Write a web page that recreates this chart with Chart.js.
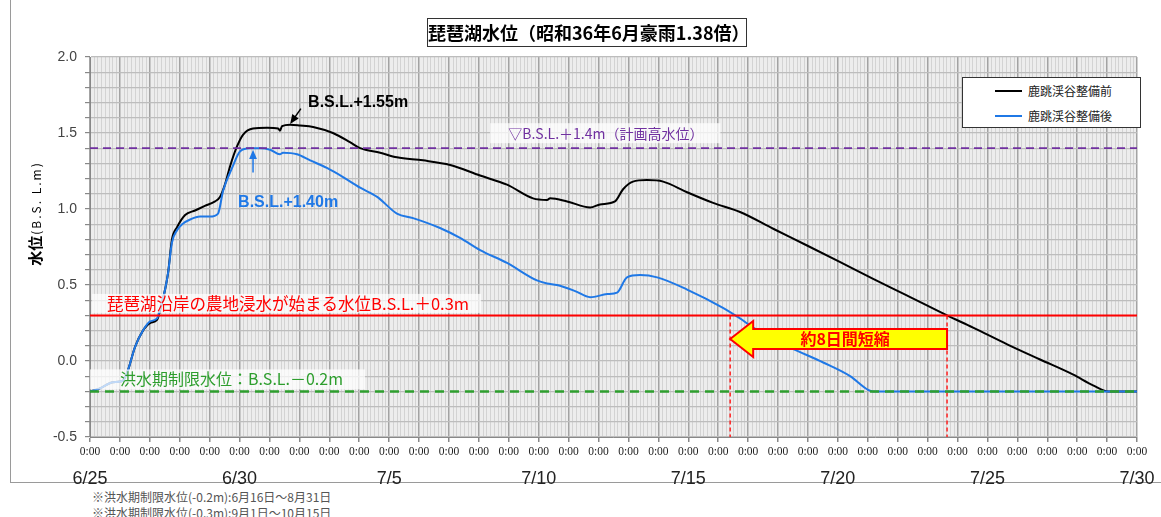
<!DOCTYPE html>
<html lang="ja">
<head>
<meta charset="utf-8">
<title>琵琶湖水位</title>
<script src="https://cdn.jsdelivr.net/npm/chart.js@4"></script>
<style>
  body { margin: 0; background: #fff; font-family: "Noto Sans CJK JP", sans-serif; }
  #wrap { position: relative; width: 1161px; height: 517px; overflow: hidden; }
  #frame { position: absolute; left: 10px; top: -2px; width: 1150px; height: 484px; border-left: 1px solid #9a9a9a; border-bottom: 1px solid #9a9a9a; }
  #chartBox { position: absolute; left: 0; top: 0; width: 1161px; height: 485px; }
  #title { position: absolute; left: 427px; top: 18px; width: 318px; height: 27px; border: 1px solid #333; background: #fff;
           font-weight: bold; font-size: 18px; line-height: 27px; text-align: center; white-space: nowrap; }
  #legend { position: absolute; left: 962px; top: 77px; width: 177px; height: 49px; border: 1px solid #333; background: #fff; font-size: 12px; }
  .row { position: absolute; left: 0; width: 100%; height: 16px; line-height: 16px; }
  .swatch { position: absolute; left: 32px; top: 7px; width: 27px; height: 2px; }
  .lbl { position: absolute; left: 65px; top: 0; white-space: nowrap; color: #222; }
  .note { position: absolute; left: 92px; font-size: 12px; line-height: 16px; color: #555; white-space: nowrap; }
</style>
</head>
<body>
<div id="wrap">
  <div id="frame"></div>
  <div id="chartBox"><canvas id="levelChart"></canvas></div>
  <div id="title">琵琶湖水位（昭和36年6月豪雨1.38倍）</div>
  <div id="legend">
    <div class="row" style="top:5px"><div class="swatch" style="background:#000"></div><div class="lbl">鹿跳渓谷整備前</div></div>
    <div class="row" style="top:30px"><div class="swatch" style="background:#1f78e6"></div><div class="lbl">鹿跳渓谷整備後</div></div>
  </div>
  <div class="note" style="top:489px">※洪水期制限水位(-0.2m):6月16日〜8月31日</div>
  <div class="note" style="top:505px">※洪水期制限水位(-0.3m):9月1日〜10月15日</div>
</div>
<script>
// days counted from 6/25 0:00
const dateLabels = ['6/25', '6/30', '7/5', '7/10', '7/15', '7/20', '7/25', '7/30'];

const beforeDays = [0, 0.33, 0.77, 1.10, 1.27, 1.50, 1.77, 2.01, 2.24, 2.34, 2.51, 2.61, 2.74, 2.91, 3.18, 3.51,
  3.84, 4.18, 4.35, 4.51, 4.68, 4.91, 5.12, 5.45, 5.92, 6.29, 6.35, 6.42, 6.69, 7.02, 7.46, 8.12, 8.69, 9.03,
  9.70, 10.26, 11.13, 12.04, 13.04, 13.94, 14.81, 15.28, 15.38, 15.95, 16.72, 17.05, 17.55, 17.82, 18.15,
  18.62, 19.16, 19.96, 20.83, 21.73, 22.84, 23.97, 25.08, 26.18, 27.32, 28.65, 29.52, 30.66, 31.76, 32.87,
  33.53, 34.04, 35];
const beforeLevel = [-0.20, -0.18, -0.14, -0.13, -0.06, 0.09, 0.20, 0.25, 0.27, 0.33, 0.47, 0.58, 0.80, 0.88, 0.96, 0.99,
  1.02, 1.05, 1.08, 1.16, 1.28, 1.41, 1.49, 1.53, 1.535, 1.53, 1.515, 1.545, 1.555, 1.55, 1.54, 1.50, 1.44, 1.40,
  1.37, 1.34, 1.32, 1.29, 1.22, 1.16, 1.07, 1.06, 1.07, 1.05, 1.01, 1.03, 1.05, 1.13, 1.18,
  1.19, 1.18, 1.11, 1.04, 0.98, 0.87, 0.76, 0.65, 0.54, 0.43, 0.30, 0.22, 0.11, 0.01, -0.09,
  -0.16, -0.20, -0.20];

const afterDays = [0, 0.33, 0.77, 1.10, 1.27, 1.50, 1.77, 2.01, 2.24, 2.34, 2.51, 2.61, 2.74, 2.91, 3.08, 3.34,
  3.68, 4.01, 4.28, 4.45, 4.75, 5.02, 5.35, 5.68, 6.02, 6.35, 6.45, 6.92, 7.36, 7.92, 8.46, 9.03, 9.60,
  10.26, 10.80, 11.70, 12.37, 13.04, 13.94, 14.94, 15.28, 15.61, 16.22, 16.72, 17.29, 17.62, 17.95, 18.39,
  18.96, 19.96, 21.16, 21.73, 22.17, 23.40, 24.51, 25.41, 26.01, 26.18, 35];
const afterLevel = [-0.20, -0.18, -0.14, -0.13, -0.06, 0.09, 0.20, 0.26, 0.28, 0.34, 0.47, 0.58, 0.78, 0.86, 0.90, 0.93,
  0.95, 0.95, 0.97, 1.12, 1.27, 1.38, 1.40, 1.40, 1.39, 1.36, 1.37, 1.36, 1.32, 1.27, 1.21, 1.14, 1.08,
  0.97, 0.94, 0.875, 0.81, 0.73, 0.645, 0.53, 0.51, 0.50, 0.46, 0.42, 0.44, 0.45, 0.55, 0.565,
  0.55, 0.47, 0.35, 0.28, 0.22, 0.09, -0.01, -0.10, -0.19, -0.20, -0.20];

const planHighLevel = 1.4;     // 計画高水位
const farmFloodLevel = 0.3;    // 農地浸水が始まる水位
const floodLimitLevel = -0.2;  // 洪水期制限水位
const afterCrossDay = 21.4;    // 整備後 0.3m 到達
const beforeCrossDay = 28.65;  // 整備前 0.3m 到達

const xMin = 0, xMax = 35, yMin = -0.5, yMax = 2.0;

function pts(xs, ys) { return xs.map((d, i) => ({x: d, y: ys[i]})); }
function hLine(v) { return [{x: xMin, y: v}, {x: xMax, y: v}]; }

function tag(ctx, text, left, cy, font, color, padL, padR, h) {
  ctx.font = font;
  const w = ctx.measureText(text).width;
  ctx.fillStyle = 'rgba(255,255,255,0.72)';
  ctx.fillRect(left - padL, cy - h / 2, w + padL + padR, h);
  ctx.fillStyle = color;
  ctx.textAlign = 'left';
  ctx.textBaseline = 'middle';
  ctx.fillText(text, left, cy);
}

function arrow(ctx, x0, y0, x1, y1, color, lw, head) {
  const ang = Math.atan2(y1 - y0, x1 - x0);
  ctx.strokeStyle = color; ctx.fillStyle = color; ctx.lineWidth = lw;
  ctx.beginPath();
  ctx.moveTo(x0, y0);
  ctx.lineTo(x1 - Math.cos(ang) * head * 0.8, y1 - Math.sin(ang) * head * 0.8);
  ctx.stroke();
  ctx.beginPath();
  ctx.moveTo(x1, y1);
  ctx.lineTo(x1 - head * Math.cos(ang - 0.4), y1 - head * Math.sin(ang - 0.4));
  ctx.lineTo(x1 - head * Math.cos(ang + 0.4), y1 - head * Math.sin(ang + 0.4));
  ctx.closePath();
  ctx.fill();
}

const decor = {
  id: 'decor',
  beforeDraw(chart) {
    const {ctx, chartArea: a, scales: {x}} = chart;
    ctx.save();
    ctx.fillStyle = '#ededed';
    ctx.fillRect(a.left, a.top, a.right - a.left, a.bottom - a.top);
    ctx.strokeStyle = '#d3d3d3';
    ctx.lineWidth = 1;
    ctx.beginPath();
    for (let h = 3; h < xMax * 24; h += 3) {
      if (h % 24 === 0) continue;
      const px = Math.round(x.getPixelForValue(h / 24)) + 0.5;
      ctx.moveTo(px, a.top); ctx.lineTo(px, a.bottom);
    }
    ctx.stroke();

    // y axis title
    ctx.translate(35, 214);
    ctx.rotate(-Math.PI / 2);
    const big = 'bold 15px "Noto Sans CJK JP"', small = '12px "Noto Sans CJK JP"';
    ctx.font = big; const w1 = ctx.measureText('水位').width;
    ctx.font = small; ctx.letterSpacing = '2px';
    const w2 = ctx.measureText('(B.S. L.m)').width;
    const sx = -(w1 + w2) / 2;
    ctx.fillStyle = '#000';
    ctx.textBaseline = 'middle';
    ctx.letterSpacing = '0px';
    ctx.font = big; ctx.fillText('水位', sx, 0);
    ctx.font = small; ctx.letterSpacing = '2px';
    ctx.fillText('(B.S. L.m)', sx + w1 + 1, 1);
    ctx.letterSpacing = '0px';
    ctx.restore();
  },
  afterDatasetsDraw(chart) {
    const {ctx, scales: {x, y}} = chart;
    ctx.save();
    const jp = '"Noto Sans CJK JP"';

    tag(ctx, '▽B.S.L.＋1.4m（計画高水位）', x.getPixelForValue(13.98), y.getPixelForValue(planHighLevel) - 15,
        '14px ' + jp, '#7030a0', 18, 17, 20);
    tag(ctx, '琵琶湖沿岸の農地浸水が始まる水位B.S.L.＋0.3m', x.getPixelForValue(0.57), y.getPixelForValue(farmFloodLevel) - 12,
        '16.5px ' + jp, '#ff0000', 15, 12, 19);
    tag(ctx, '洪水期制限水位：B.S.L.－0.2m', x.getPixelForValue(1.0), y.getPixelForValue(floodLimitLevel) - 12,
        '16px ' + jp, '#2e9e2e', 30, 22, 20);

    // peak notes
    ctx.font = 'bold 16px "Liberation Sans"';
    ctx.fillStyle = '#000'; ctx.textAlign = 'left'; ctx.textBaseline = 'middle';
    ctx.fillText('B.S.L.+1.55m', x.getPixelForValue(7.29), y.getPixelForValue(1.70));
    arrow(ctx, x.getPixelForValue(7.05), y.getPixelForValue(1.66), x.getPixelForValue(6.69), y.getPixelForValue(1.56), '#000', 1.5, 10);
    ctx.fillStyle = '#1f78e6';
    ctx.font = 'bold 16px "Liberation Sans"';
    ctx.fillText('B.S.L.+1.40m', x.getPixelForValue(4.95), y.getPixelForValue(1.04));
    arrow(ctx, x.getPixelForValue(5.45), y.getPixelForValue(1.24), x.getPixelForValue(5.45), y.getPixelForValue(1.39), '#1f78e6', 1.5, 10);

    // 約8日間短縮 arrow
    const tipX = x.getPixelForValue(afterCrossDay), endX = x.getPixelForValue(beforeCrossDay);
    const cy = y.getPixelForValue(0.145);
    ctx.beginPath();
    ctx.moveTo(tipX, cy);
    ctx.lineTo(tipX + 23, cy - 18);
    ctx.lineTo(tipX + 23, cy - 10);
    ctx.lineTo(endX, cy - 10);
    ctx.lineTo(endX, cy + 10);
    ctx.lineTo(tipX + 23, cy + 10);
    ctx.lineTo(tipX + 23, cy + 18);
    ctx.closePath();
    ctx.fillStyle = '#ffff00';
    ctx.fill();
    ctx.strokeStyle = '#ff0000';
    ctx.lineWidth = 2;
    ctx.stroke();
    ctx.font = 'bold 16px ' + jp;
    ctx.fillStyle = '#ff0000';
    ctx.textAlign = 'center';
    ctx.fillText('約8日間短縮', (tipX + 23 + endX) / 2 - 5, cy);
    ctx.restore();
  }
};

new Chart(document.getElementById('levelChart'), {
  type: 'line',
  data: {
    datasets: [
      {label: 'flood limit', data: hLine(floodLimitLevel), borderColor: '#2e9e2e', borderWidth: 2.5, borderDash: [9, 6]},
      {label: 'farm flood', data: hLine(farmFloodLevel), borderColor: '#ff0000', borderWidth: 2},
      {label: 'plan high', data: hLine(planHighLevel), borderColor: '#7030a0', borderWidth: 1.8, borderDash: [8, 5]},
      {label: 'after cross', data: [{x: afterCrossDay, y: farmFloodLevel}, {x: afterCrossDay, y: yMin}], borderColor: '#ff2020', borderWidth: 1.5, borderDash: [4, 3]},
      {label: 'before cross', data: [{x: beforeCrossDay, y: farmFloodLevel}, {x: beforeCrossDay, y: yMin}], borderColor: '#ff2020', borderWidth: 1.5, borderDash: [4, 3]},
      {label: '鹿跳渓谷整備後', data: pts(afterDays, afterLevel), borderColor: '#1f78e6', borderWidth: 2, cubicInterpolationMode: 'monotone'},
      {label: '鹿跳渓谷整備前', data: pts(beforeDays, beforeLevel), borderColor: '#000', borderWidth: 2, cubicInterpolationMode: 'monotone'}
    ]
  },
  options: {
    animation: false,
    responsive: true,
    maintainAspectRatio: false,
    elements: {point: {radius: 0}, line: {fill: false}},
    layout: {padding: {left: 10, right: 24, top: 57, bottom: 0}},
    plugins: {legend: {display: false}, tooltip: {enabled: false}},
    scales: {
      x: {
        type: 'linear', min: xMin, max: xMax, position: 'bottom', weight: 0,
        afterFit: s => { s.height = 26; },
        grid: {color: '#a3a3a3', lineWidth: 1.5, tickLength: 5, tickColor: '#888'},
        border: {color: '#888'},
        ticks: {stepSize: 1, autoSkip: false, maxRotation: 0, padding: 3, color: '#222',
                font: {family: 'Liberation Serif', size: 11.5}, callback: () => '0:00'}
      },
      x2: {
        type: 'linear', min: xMin, max: xMax, position: 'bottom', weight: 1,
        afterFit: s => { s.height = 22; },
        grid: {display: false}, border: {display: false},
        ticks: {stepSize: 5, autoSkip: false, maxRotation: 0, padding: -3, color: '#222',
                font: {family: 'Liberation Sans', size: 18}, callback: v => dateLabels[Math.round(v / 5)]}
      },
      y: {
        min: yMin, max: yMax,
        afterFit: s => { s.width = 80; },
        grid: {color: '#bdbdbd', lineWidth: 1.2, tickLength: 5, tickColor: '#888'},
        border: {color: '#888'},
        ticks: {stepSize: 0.1, autoSkip: false, padding: 8, color: '#444',
                font: {family: 'Liberation Sans', size: 14},
                callback: v => { const k = Math.round(v * 10); return k % 5 === 0 ? (k / 10).toFixed(1) : ''; }}
      }
    }
  },
  plugins: [decor]
});
</script>
</body>
</html>
